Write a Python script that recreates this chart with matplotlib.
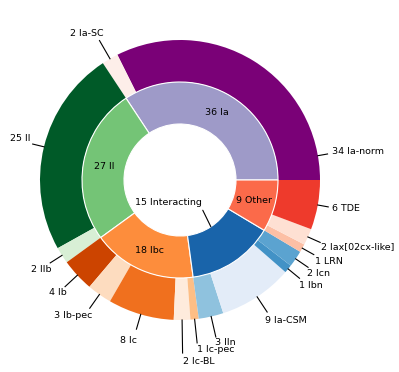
import matplotlib
matplotlib.use("Agg")
import matplotlib.pyplot as plt
import numpy as np

# ---- data ----
inner_labels = ["Ia", "II", "Ibc", "Interacting", "Other"]
inner_values = [36, 27, 18, 15, 9]
inner_colors = ["#9e9ac8", "#74c476", "#fd8d3c", "#1964aa", "#fb6a4a"]

outer_labels = ["Ia-norm", "Ia-SC", "II", "IIb", "Ib", "Ib-pec", "Ic", "Ic-BL",
                "Ic-pec", "IIn", "Ia-CSM", "Ibn", "Icn", "LRN",
                "Iax[02cx-like]", "TDE"]
outer_values = [34, 2, 25, 2, 4, 3, 8, 2, 1, 3, 9, 1, 2, 1, 2, 6]
outer_colors = ["#7a0177", "#fdeee9", "#005a28", "#d8efd5", "#cc4400", "#fddcbf",
                "#f0701e", "#feebdc", "#fdbe85", "#8fc2de", "#e3ecf8", "#4292c6",
                "#5ba3d0", "#fcbfa5", "#fee0d3", "#ee3a2c"]

# ---- layout for outer labels: (angle override or None, line end radius, text x, text y, ha)
outer_label_layout = [
    (10, 1.07, 1.086, 0.207, "left"),
    (None, 1.15, -0.664, 1.05, "center"),
    (None, 1.083, -1.071, 0.293, "right"),
    (None, 1.10, -0.921, -0.636, "right"),
    (None, 1.12, -0.807, -0.807, "right"),
    (None, 1.12, -0.629, -0.971, "right"),
    (None, 1.11, -0.307, -1.143, "right"),
    (None, 1.236, 0.021, -1.293, "left"),
    (None, 1.17, 0.121, -1.214, "left"),
    (None, 1.15, 0.25, -1.164, "left"),
    (None, 1.13, 0.607, -1.007, "left"),
    (None, 1.105, 0.85, -0.757, "left"),
    (None, 1.107, 0.907, -0.671, "left"),
    (None, 1.094, 0.964, -0.579, "left"),
    (None, 1.096, 1.007, -0.479, "left"),
    (None, 1.076, 1.086, -0.207, "left"),
]

W, H = 399, 372
fig = plt.figure(figsize=(W / 100, H / 100), dpi=100)
ax = fig.add_axes([0, 0, 1, 1])

size = 0.3
ax.pie(outer_values, radius=1, colors=outer_colors, startangle=0,
       counterclock=True, wedgeprops=dict(width=size, edgecolor="none"))
ax.pie(inner_values, radius=1 - size, colors=inner_colors, startangle=0,
       counterclock=True, wedgeprops=dict(width=size, edgecolor="white", linewidth=0.8))

fs = 6.8
total = sum(outer_values)
cum = np.cumsum([0] + outer_values)
for i, (lab, v) in enumerate(zip(outer_labels, outer_values)):
    ang_o, rend, tx, ty, ha = outer_label_layout[i]
    mid = (cum[i] + v / 2) / total * 360
    ang = np.deg2rad(mid if ang_o is None else ang_o)
    ax.plot([np.cos(ang) * 1.0, np.cos(ang) * rend],
            [np.sin(ang) * 1.0, np.sin(ang) * rend], color="black", lw=0.8)
    ax.text(tx, ty, f"{v} {lab}", ha=ha, va="center", fontsize=fs)

itotal = sum(inner_values)
icum = np.cumsum([0] + inner_values)
for i, (lab, v) in enumerate(zip(inner_labels, inner_values)):
    mid = np.deg2rad((icum[i] + v / 2) / itotal * 360)
    if lab == "Interacting":
        ax.annotate(f"{v} {lab}", xy=(0.4 * np.cos(mid), 0.4 * np.sin(mid)),
                    xytext=(-0.086, -0.164), ha="center", va="center", fontsize=fs,
                    arrowprops=dict(arrowstyle="-", color="black", lw=0.8,
                                    shrinkA=0, shrinkB=0, relpos=(1.0, 0.0)))
    else:
        ax.text(0.55 * np.cos(mid), 0.55 * np.sin(mid), f"{v} {lab}",
                ha="center", va="center", fontsize=fs)

ax.set_xlim(-180 / 140, (W - 180) / 140)
ax.set_ylim(-(H - 180) / 140, 180 / 140)
ax.set_aspect("auto")
ax.axis("off")
fig.savefig("out.png", dpi=100)
